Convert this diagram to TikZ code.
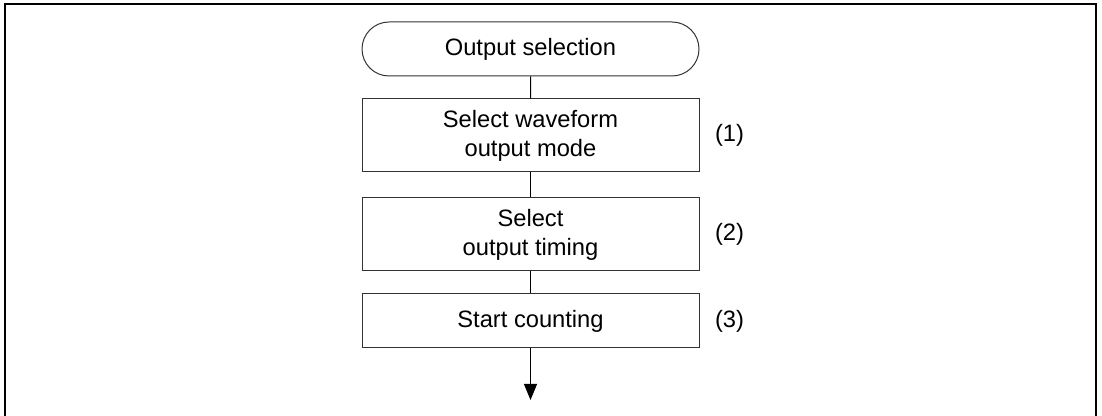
\documentclass[tikz,border=0pt]{standalone}
\usepackage{fontspec}
\setmainfont{Liberation Sans}
\usetikzlibrary{arrows.meta,shapes.misc,positioning}

\begin{document}
\begin{tikzpicture}[x=.5pt,y=-.5pt,line width=.5pt,font=\fontsize{11.85}{14.5}\selectfont,
  termbox/.style={draw=black!80,rounded rectangle,minimum width=168.5pt,minimum height=27pt,inner sep=0pt},
  stepbox/.style={draw=black!80,rectangle,minimum width=168.5pt,align=center,inner sep=0pt},
  numlbl/.style={inner sep=0pt}]
\useasboundingbox (0,0) rectangle (1102,416);
\draw[line width=1pt] (5,420)--(5,4)--(1096,4)--(1096,420);
\node[termbox] (start) at (530.5,49) {Output selection};
\node[stepbox,minimum height=36.5pt] (mode) at (530.5,135.5) {Select waveform\\output mode};
\node[stepbox,minimum height=36.5pt] (timing) at (530.5,234.5) {Select\\output timing};
\node[stepbox,minimum height=27pt] (count) at (530.5,321) {Start counting};
\coordinate (end) at (530.5,400);
\node[numlbl,right=7.5pt of mode] (n1) {(1)}; \node[numlbl,right=7.5pt of timing] (n2) {(2)};
\node[numlbl,right=7.5pt of count] (n3) {(3)};
\draw (start)--(mode); \draw (mode)--(timing); \draw (timing)--(count);
\draw[-{Triangle[width=6.5pt,length=8pt]}] (count)--(end);
\end{tikzpicture}
\end{document}
